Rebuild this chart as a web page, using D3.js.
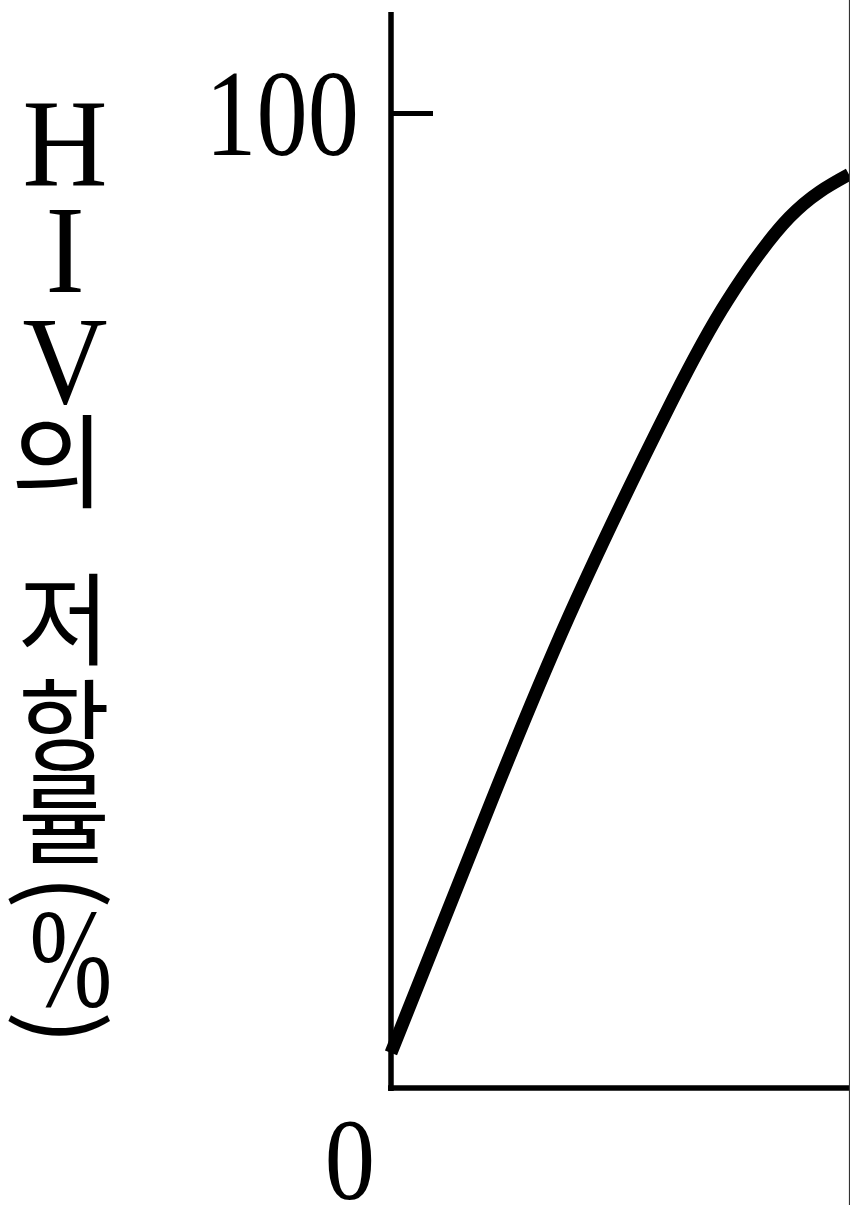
<!DOCTYPE html>
<html lang="ko">
<head>
<meta charset="utf-8">
<script src="https://cdn.jsdelivr.net/npm/d3@7"></script>
<style>
  html, body { margin: 0; padding: 0; background: #fff; }
  svg { display: block; }
</style>
</head>
<body>
<div id="chart"></div>
<script>
// Elapsed time (arbitrary units) and HIV resistance rate (%)
const time = [0, 2.2, 4.05, 6.15, 7.35, 8.7, 10];
const resistance = [3.6, 29.5, 50.1, 70.6, 80.8, 89.3, 93.7];

// Axis tick labels
const yTicks = [100];
const originLabel = "0";

// Vertical axis title, one glyph per row
const titleLatin = ["H", "I", "V"];
const titleHangul1 = ["의"];
const titleHangul2 = ["저", "항", "률"];

const width = 850, height = 1205;
const svg = d3.select("#chart").append("svg")
  .attr("width", width).attr("height", height);

const x = d3.scaleLinear().domain([0, 10]).range([391, 849]);
const y = d3.scaleLinear().domain([0, 100]).range([1088, 113]);

// clip so the curve stops at the panel edge
svg.append("clipPath").attr("id", "plot-clip")
  .append("rect").attr("x", 380).attr("y", 0).attr("width", 469).attr("height", 1100);

// y axis with inward tick at 100
const yAxis = svg.append("g")
  .attr("transform", `translate(${x(0)},0)`)
  .call(d3.axisRight(y).tickValues(yTicks).tickSize(42).tickFormat(""));
yAxis.select(".domain").remove();
yAxis.selectAll(".tick line").attr("stroke", "#000").attr("stroke-width", 5);

svg.append("line")
  .attr("x1", x(0)).attr("x2", x(0))
  .attr("y1", 12).attr("y2", y(0) + 3)
  .attr("stroke", "#000").attr("stroke-width", 5.5);

// x axis baseline
svg.append("line")
  .attr("x1", x(0) - 3).attr("x2", 850)
  .attr("y1", y(0)).attr("y2", y(0))
  .attr("stroke", "#000").attr("stroke-width", 5.5);

// thin frame edge on the right
svg.append("line")
  .attr("x1", 849.5).attr("x2", 849.5)
  .attr("y1", 0).attr("y2", height)
  .attr("stroke", "#333").attr("stroke-width", 1.2);

// tick label 100
yTicks.forEach(v => {
  svg.append("g")
    .attr("transform", `translate(359,${y(v) + 42}) scale(0.84,1)`)
    .append("text")
    .attr("text-anchor", "end")
    .attr("font-family", "'Liberation Serif', 'Times New Roman', serif")
    .attr("font-size", 122)
    .attr("fill", "#000")
    .text(d3.format("d")(v));
});

// origin label
svg.append("g")
  .attr("transform", `translate(350,1199) scale(0.86,1)`)
  .append("text")
  .attr("text-anchor", "middle")
  .attr("font-family", "'Liberation Serif', 'Times New Roman', serif")
  .attr("font-size", 117)
  .attr("fill", "#000")
  .text(originLabel);

// curve
const line = d3.line()
  .x((d, i) => x(time[i]))
  .y(d => y(d))
  .curve(d3.curveNatural);

svg.append("path")
  .datum(resistance)
  .attr("clip-path", "url(#plot-clip)")
  .attr("d", line)
  .attr("fill", "none")
  .attr("stroke", "#000")
  .attr("stroke-width", 13)
  .attr("stroke-linecap", "butt")
  .attr("stroke-linejoin", "round");

// vertical title
const title = svg.append("g").attr("fill", "#000");
const latinBaselines = [185, 292, 403];
titleLatin.forEach((c, i) => {
  title.append("g")
    .attr("transform", `translate(65,${latinBaselines[i]}) scale(0.95,1)`)
    .append("text")
    .attr("text-anchor", "middle")
    .attr("font-family", "'Liberation Serif', 'Times New Roman', serif")
    .attr("font-size", 124)
    .text(c);
});

const hangulFont = "'Noto Sans CJK KR', 'Noto Sans', sans-serif";
const hangulCenters1 = [455];
titleHangul1.forEach((c, i) => {
  title.append("text")
    .attr("x", 58).attr("y", hangulCenters1[i])
    .attr("text-anchor", "middle")
    .attr("dominant-baseline", "central")
    .attr("font-family", hangulFont)
    .attr("font-size", 102)
    .text(c);
});
const hangulCenters2 = [613, 719, 812];
titleHangul2.forEach((c, i) => {
  title.append("text")
    .attr("x", 64).attr("y", hangulCenters2[i])
    .attr("text-anchor", "middle")
    .attr("dominant-baseline", "central")
    .attr("font-family", hangulFont)
    .attr("font-size", 100)
    .text(c);
});

// rotated parentheses around the percent sign
title.append("text")
  .attr("transform", "translate(64,892) rotate(90)")
  .attr("text-anchor", "middle")
  .attr("dominant-baseline", "central")
  .attr("font-family", hangulFont)
  .attr("font-size", 100)
  .text("(");
title.append("text")
  .attr("transform", "translate(64,1028) rotate(90)")
  .attr("text-anchor", "middle")
  .attr("dominant-baseline", "central")
  .attr("font-family", hangulFont)
  .attr("font-size", 100)
  .text(")");
title.append("g")
  .attr("transform", "translate(71,1006) scale(0.7,1)")
  .append("text")
  .attr("text-anchor", "middle")
  .attr("font-family", "'Liberation Serif', 'Times New Roman', serif")
  .attr("font-size", 142)
  .text("%");
</script>
</body>
</html>
